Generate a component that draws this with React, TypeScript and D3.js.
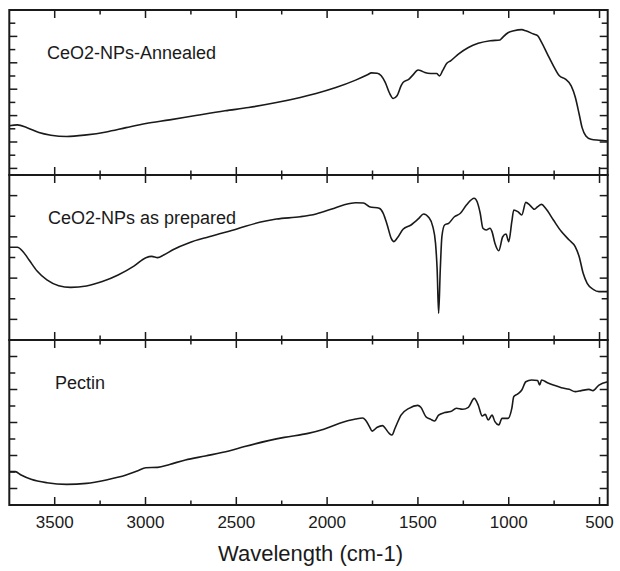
import React from 'react';
import * as d3 from 'd3';

// wavenumber (cm-1), transmittance (arbitrary units, 0 = bottom of panel, 100 = top)
const annealed: [number, number][] = [
  [3750, 29.8], [3706, 30.4], [3652, 28.7], [3587, 25.7], [3521, 24.1], [3434, 23.3],
  [3325, 24.3], [3216, 26.1], [3107, 28.7], [2998, 31.2], [2867, 33.4], [2715, 36.2],
  [2562, 38.9], [2432, 40.9], [2279, 43.9], [2148, 47.0], [2061, 49.4], [1952, 53.0],
  [1843, 57.5], [1778, 60.7], [1756, 61.9], [1724, 61.7], [1702, 60.1], [1680, 56.1],
  [1658, 50.0], [1636, 46.4], [1615, 48.0], [1593, 54.0], [1582, 56.1], [1549, 58.1],
  [1527, 60.7], [1499, 63.6], [1484, 63.2], [1462, 62.1], [1429, 61.5], [1397, 61.5],
  [1381, 60.1], [1364, 63.2], [1342, 67.6], [1320, 69.2], [1277, 73.3], [1222, 77.3],
  [1168, 79.8], [1102, 81.4], [1048, 81.8], [1037, 83.0], [1004, 86.2], [972, 87.4],
  [928, 88.1], [906, 87.4], [863, 85.4], [841, 84.4], [819, 80.4], [787, 73.3],
  [754, 66.2], [721, 60.1], [688, 58.1], [656, 54.0], [633, 47.0], [612, 36.8],
  [596, 28.7], [575, 23.7], [547, 21.7], [503, 21.1], [455, 20.6],
];

const asPrepared: [number, number][] = [
  [3750, 56.2], [3706, 56.2], [3674, 53.5], [3641, 48.5], [3597, 41.8], [3543, 36.4],
  [3478, 32.9], [3412, 31.9], [3325, 32.7], [3238, 35.4], [3151, 39.4], [3064, 44.8],
  [2998, 49.9], [2966, 50.7], [2933, 49.9], [2900, 51.5], [2846, 54.9], [2759, 59.0],
  [2650, 62.6], [2497, 67.3], [2366, 71.5], [2279, 73.3], [2148, 74.7], [2061, 76.4],
  [1974, 79.4], [1909, 81.8], [1843, 83.2], [1800, 83.0], [1767, 80.8], [1713, 79.8],
  [1691, 76.8], [1669, 69.7], [1647, 61.6], [1632, 59.6], [1615, 61.6], [1582, 67.1],
  [1538, 69.7], [1495, 73.7], [1469, 76.4], [1440, 74.3], [1418, 68.7], [1403, 58.6],
  [1394, 42.4], [1386, 16.2], [1377, 42.4], [1368, 62.6], [1353, 69.7], [1331, 70.7],
  [1299, 74.7], [1266, 76.8], [1233, 81.8], [1190, 85.9], [1174, 83.8], [1157, 76.8],
  [1142, 67.7], [1124, 66.7], [1103, 67.7], [1092, 65.7], [1076, 58.6], [1055, 54.1],
  [1033, 62.6], [1015, 64.2], [1000, 59.6], [983, 71.7], [972, 78.8], [950, 77.8],
  [928, 75.8], [906, 83.4], [884, 81.8], [858, 79.2], [841, 80.8], [819, 82.2],
  [797, 79.8], [754, 72.7], [710, 65.7], [667, 60.6], [634, 56.6], [612, 50.5],
  [590, 40.4], [568, 34.3], [535, 30.7], [503, 29.3], [455, 29.3],
];

const pectin: [number, number][] = [
  [3750, 20.2], [3717, 20.2], [3685, 18.2], [3630, 15.6], [3543, 13.5], [3434, 12.5],
  [3325, 13.1], [3216, 15.2], [3107, 18.2], [3042, 20.8], [2998, 22.6], [2933, 22.8],
  [2867, 24.6], [2780, 27.3], [2671, 29.7], [2541, 32.7], [2454, 35.4], [2323, 39.0],
  [2236, 41.0], [2105, 43.4], [2018, 45.9], [1931, 49.5], [1843, 52.1], [1804, 52.7],
  [1789, 51.5], [1767, 47.5], [1752, 44.8], [1724, 47.1], [1695, 48.1], [1680, 46.5],
  [1658, 43.4], [1643, 42.4], [1626, 46.5], [1593, 54.5], [1549, 58.6], [1501, 60.4],
  [1484, 59.2], [1456, 53.5], [1429, 51.9], [1408, 50.9], [1386, 54.5], [1353, 56.0],
  [1320, 56.6], [1288, 58.6], [1255, 58.0], [1222, 59.2], [1190, 64.6], [1168, 60.6],
  [1146, 53.9], [1129, 54.9], [1113, 51.5], [1092, 54.5], [1076, 50.5], [1055, 48.5],
  [1037, 52.5], [1004, 52.5], [983, 58.6], [972, 65.7], [950, 67.3], [928, 69.7],
  [906, 74.7], [874, 75.8], [841, 75.4], [830, 72.7], [819, 75.8], [787, 74.1],
  [754, 72.7], [710, 71.1], [667, 70.1], [634, 68.7], [601, 69.3], [558, 70.1],
  [536, 69.3], [503, 72.7], [455, 74.7],
];

const labels = ['CeO2-NPs-Annealed', 'CeO2-NPs as prepared', 'Pectin'];
const series = [annealed, asPrepared, pectin];
const yTicks = [
  [4, 12, 20, 28, 36, 44, 52, 60, 68, 76, 84, 92],
  [12.5, 25, 37.5, 50, 62.5, 75, 87.5],
  [10, 20, 30, 40, 50, 60, 70, 80, 90],
];
const xMajor = [3500, 3000, 2500, 2000, 1500, 1000, 500];
const xMinor = [3250, 2750, 2250, 1750, 1250, 750];
const xDomain = [3750, 455];
const xTitle = 'Wavelength (cm-1)';

const W = 620;
const H = 571;
const left = 9.3;
const right = 607.7;
const top = 10;
const panelH = 165;
const ink = '#1a1a1a';
const font = '"Liberation Sans", Arial, sans-serif';

export default function App() {
  const x = d3.scaleLinear().domain(xDomain).range([left, right]);
  const labelX = [47, 48, 55];

  return (
    <svg width={W} height={H} style={{ position: 'absolute', left: 0, top: 0, background: '#fff' }}>
      {series.map((data, i) => {
        const y0 = top + i * panelH;
        const y = d3.scaleLinear().domain([0, 100]).range([y0 + panelH, y0]);
        const line = d3.line<[number, number]>()
          .x((d) => x(d[0]))
          .y((d) => y(d[1]))
          .curve(d3.curveMonotoneX);
        return (
          <g key={i}>
            <path d={line(data) || ''} fill="none" stroke={ink} strokeWidth={1.6} strokeLinejoin="round" />
            {/* x ticks, top and bottom, pointing in */}
            {xMajor.map((t) => (
              <g key={'M' + t}>
                <line x1={x(t)} x2={x(t)} y1={y0} y2={y0 + 8} stroke={ink} strokeWidth={1.5} />
                <line x1={x(t)} x2={x(t)} y1={y0 + panelH} y2={y0 + panelH - 8} stroke={ink} strokeWidth={1.5} />
              </g>
            ))}
            {xMinor.map((t) => (
              <g key={'m' + t}>
                <line x1={x(t)} x2={x(t)} y1={y0} y2={y0 + 4.5} stroke={ink} strokeWidth={1.5} />
                <line x1={x(t)} x2={x(t)} y1={y0 + panelH} y2={y0 + panelH - 4.5} stroke={ink} strokeWidth={1.5} />
              </g>
            ))}
            {/* y ticks, left and right, pointing in */}
            {yTicks[i].map((t, k) => {
              const len = k % 2 === 0 ? 8 : 6;
              return (
                <g key={'y' + t}>
                  <line x1={left} x2={left + len} y1={y(t)} y2={y(t)} stroke={ink} strokeWidth={1.5} />
                  <line x1={right} x2={right - len} y1={y(t)} y2={y(t)} stroke={ink} strokeWidth={1.5} />
                </g>
              );
            })}
            <rect x={left} y={y0} width={right - left} height={panelH} fill="none" stroke={ink} strokeWidth={2} />
            <text x={labelX[i]} y={y0 + 49} fontFamily={font} fontSize={18} fill={ink}>
              {labels[i]}
            </text>
          </g>
        );
      })}
      {xMajor.map((t) => (
        <text key={t} x={x(t)} y={528} textAnchor="middle" fontFamily={font} fontSize={17} fill={ink}>
          {t}
        </text>
      ))}
      <text x={(left + right) / 2 + 2} y={561} textAnchor="middle" fontFamily={font} fontSize={22} fill={ink}>
        {xTitle}
      </text>
    </svg>
  );
}
